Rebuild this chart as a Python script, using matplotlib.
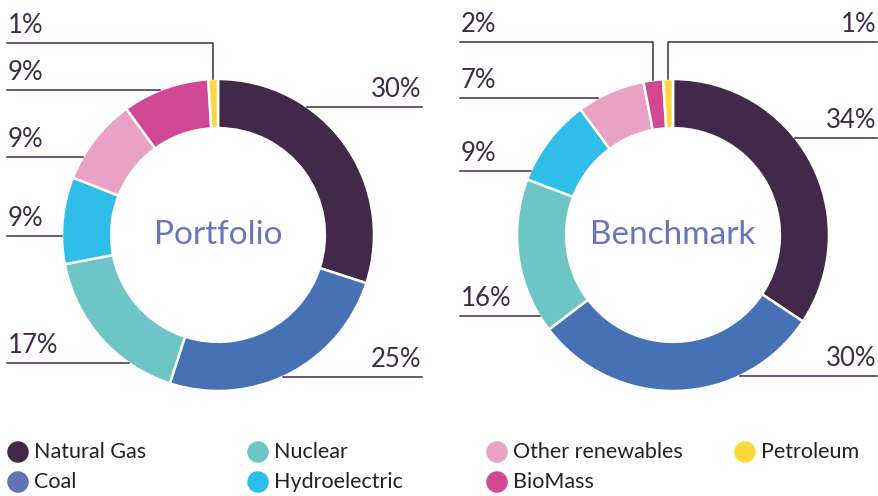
import numpy as np
import matplotlib
matplotlib.use("Agg")
from matplotlib import pyplot as plt

sources = ['Natural Gas', 'Coal', 'Nuclear', 'Hydroelectric', 'Other renewables', 'BioMass', 'Petroleum']
portfolio = [30, 25, 17, 9, 9, 9, 1]
benchmark = [34, 30, 16, 9, 7, 2, 1]

colors = ['#42294a', '#4672b5', '#6ec5c5', '#2ebee9', '#eaa1c6', '#d04893', '#fed93d']
legend_colors = ['#42294a', '#6272b8', '#6ec5c5', '#2ebee9', '#eaa1c6', '#d04893', '#fed93d']
ink = '#42294a'

plt.rcParams['font.family'] = ['Lato', 'DejaVu Sans']

W, H = 879, 496
fig = plt.figure(figsize=(W / 100, H / 100), dpi=100)
ax = fig.add_axes([0, 0, 1, 1])
ax.set_xlim(0, W)
ax.set_ylim(0, H)
ax.set_aspect('equal')
ax.axis('off')

R = 156
donuts = [
    # values, title, center(px), label line y per slice (px), side, elbow, label x-extent
    (portfolio, 'Portfolio', (218, 235),
     [107, 377, 363, 236, 157, 90, 43], 'RRLLLLL', [0, 0, 0, 0, 0, 0, 1], (7, 422)),
    (benchmark, 'Benchmark', (673, 235),
     [138, 376, 316, 171, 98, 42, 42], 'RRLLLLR', [0, 0, 0, 0, 0, 1, 1], (460, 877)),
]

for vals, title, (cx, cy), line_y, side, elbow, (xl, xr) in donuts:
    ax.pie(vals, colors=colors, radius=R, center=(cx, H - cy), startangle=90, counterclock=False,
           wedgeprops=dict(width=R * 0.315, edgecolor='white', linewidth=1.8), frame=True)
    ax.text(cx, H - cy, title, ha='center', va='center', fontsize=24, color='#6877bd')
    total = float(sum(vals))
    cum = np.cumsum([0] + list(vals))
    for i, v in enumerate(vals):
        ly = line_y[i]
        x0 = xl if side[i] == 'L' else xr
        if elbow[i]:
            mid = (cum[i] + v / 2) / total * 2 * np.pi
            mx = cx + R * np.sin(mid)
            top = cy - (R * R - (mx - cx) ** 2) ** 0.5
            ax.plot([x0, mx, mx], [H - ly, H - ly, H - top], color=ink, lw=1.1)
        else:
            dy = cy - ly
            dx = (R * R - dy * dy) ** 0.5
            ex = cx + dx if side[i] == 'R' else cx - dx
            ax.plot([x0, ex], [H - ly, H - ly], color=ink, lw=1.1)
        if side[i] == 'L':
            ax.text(xl + 1, H - ly + 5, f'{v}%', ha='left', va='bottom', fontsize=18.5, color=ink)
        else:
            ax.text(xr - 1, H - ly + 5, f'{v}%', ha='right', va='bottom', fontsize=18.5, color=ink)

ax.set_xlim(0, W)
ax.set_ylim(0, H)

col_x = [18, 258, 497, 745]
row_y = [452, 482]
for i, name in enumerate(sources):
    x = col_x[i // 2]
    y = row_y[i % 2]
    ax.scatter([x], [H - y], s=240, color=legend_colors[i], edgecolors='none')
    ax.text(x + 16, H - y, name, ha='left', va='center', fontsize=15.5, color='#222222')

fig.savefig('out.png', dpi=100)
